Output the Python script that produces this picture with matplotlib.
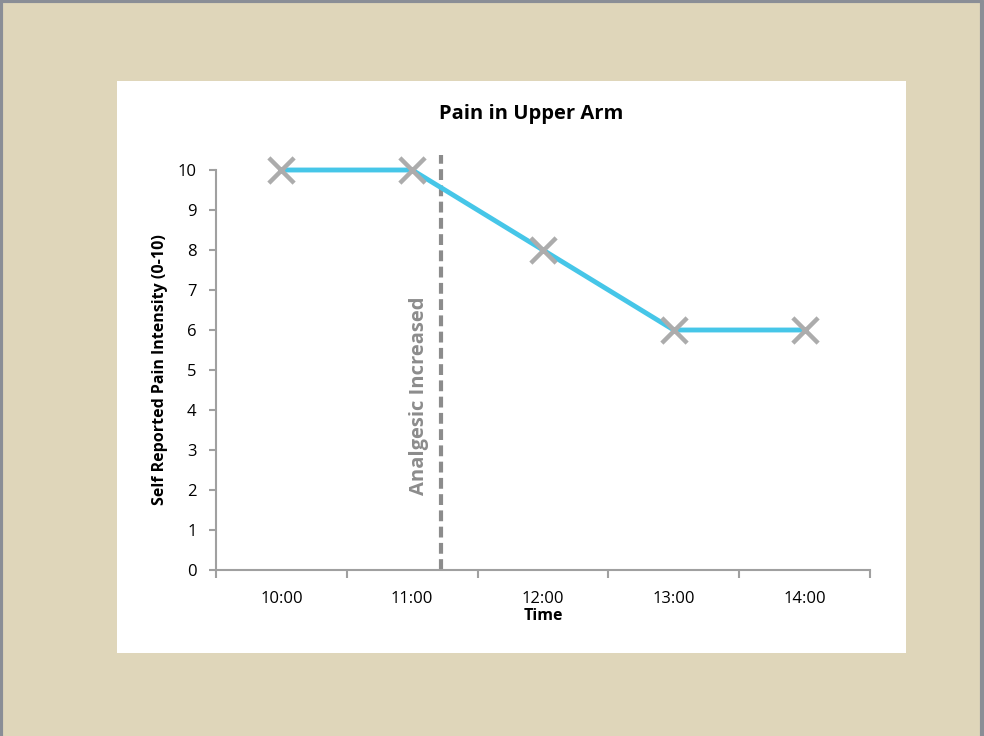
import numpy as np
import matplotlib.pyplot as plt

times = ['10:00', '11:00', '12:00', '13:00', '14:00']
pain = [10, 10, 8, 6, 6]
analgesic_pos = 1.22   # between 11:00 and 12:00
yticks = list(range(0, 11))

plt.rcParams['font.family'] = ['Open Sans', 'DejaVu Sans']

fig = plt.figure(figsize=(9.84, 7.36), dpi=100)
fig.patch.set_facecolor('#dfd6ba')

# white chart panel
panel = fig.add_axes([117/984, 1 - 653/736, (906-117)/984, (653-81)/736])
panel.set_facecolor('white')
panel.set_xticks([])
panel.set_yticks([])
for s in panel.spines.values():
    s.set_visible(False)
panel.set_zorder(0)

# thin window border
border = fig.add_axes([0, 0, 1, 1], facecolor='none')
border.set_xlim(0, 1)
border.set_ylim(0, 1)
border.axis('off')
border.plot([0.001, 0.001, 0.998, 0.998], [0, 0.998, 0.998, 0], color='#8a8e96', lw=3)

ax = fig.add_axes([216/984, 1 - 570/736, (870-216)/984, (570-170)/736])
ax.set_zorder(1)
ax.patch.set_alpha(0)

x = np.arange(len(times))
ax.plot(x, pain, color='#46c6e8', lw=3.5, zorder=3, solid_capstyle='round', clip_on=False)
ax.scatter(x, pain, marker='x', s=330, color='#acacac', linewidths=3.2, zorder=4, clip_on=False)

ax.plot([analgesic_pos, analgesic_pos], [0, 10.37], color='#8c8c8c', lw=3,
        ls=(0, (2.6, 1.3)), clip_on=False, zorder=2)
ax.text(analgesic_pos - 0.17, 4.35, 'Analgesic Increased', rotation=90,
        ha='center', va='center', color='#8c8c8c', fontsize=14.5, fontweight='bold')

ax.set_xlim(-0.5, 4.5)
ax.set_ylim(0, 10)
ax.set_xticks(x)
ax.set_xticklabels(times, fontsize=12)
ax.set_xticks(np.arange(-0.5, 4.6, 1), minor=True)
ax.tick_params(axis='x', which='major', length=0, pad=15)
ax.tick_params(axis='x', which='minor', length=6, width=1.5, color='#a0a0a0')
ax.set_yticks(yticks)
ax.set_yticklabels([str(v) for v in yticks], fontsize=12)
ax.tick_params(axis='y', length=5, width=1.5, color='#a0a0a0', pad=9)

for s in ['top', 'right']:
    ax.spines[s].set_visible(False)
for s in ['left', 'bottom']:
    ax.spines[s].set_color('#a0a0a0')
    ax.spines[s].set_linewidth(1.5)

ax.set_xlabel('Time', fontsize=11.5, fontweight='bold', labelpad=1)
ax.set_ylabel('Self Reported Pain Intensity (0-10)', fontsize=11.5, fontweight='bold', labelpad=7)

fig.text(531/984, 1 - 114/736, 'Pain in Upper Arm', ha='center', va='center',
         fontsize=14.5, fontweight='bold')

fig.savefig('out.png', dpi=100, facecolor=fig.get_facecolor())
